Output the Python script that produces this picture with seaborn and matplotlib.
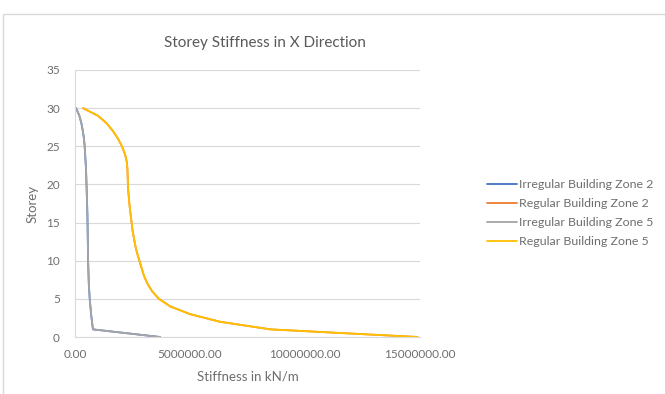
import matplotlib
matplotlib.use("Agg")
import matplotlib.pyplot as plt
import seaborn as sns
import pandas as pd
from matplotlib.patches import Rectangle
from matplotlib.ticker import FuncFormatter

storey = list(range(31))

# Stiffness (kN/m) per storey, storey 0 to 30
irregular_zone2 = [3.70e6, 0.78e6, 0.74e6, 0.70e6, 0.67e6, 0.64e6, 0.62e6, 0.60e6, 0.59e6, 0.58e6,
                   0.57e6, 0.565e6, 0.56e6, 0.555e6, 0.55e6, 0.545e6, 0.54e6, 0.53e6, 0.52e6, 0.51e6,
                   0.50e6, 0.49e6, 0.48e6, 0.46e6, 0.44e6, 0.42e6, 0.39e6, 0.34e6, 0.28e6, 0.19e6, 0.05e6]
regular_zone2 = [14.9e6, 8.5e6, 6.3e6, 5.0e6, 4.15e6, 3.65e6, 3.35e6, 3.15e6, 3.0e6, 2.9e6,
                 2.8e6, 2.7e6, 2.62e6, 2.56e6, 2.5e6, 2.46e6, 2.42e6, 2.38e6, 2.35e6, 2.32e6,
                 2.3e6, 2.29e6, 2.28e6, 2.25e6, 2.17e6, 2.04e6, 1.87e6, 1.65e6, 1.38e6, 1.0e6, 0.35e6]
irregular_zone5 = list(irregular_zone2)
regular_zone5 = list(regular_zone2)

series_names = ["Irregular Building Zone 2", "Regular Building Zone 2",
                "Irregular Building Zone 5", "Regular Building Zone 5"]
series_values = [irregular_zone2, regular_zone2, irregular_zone5, regular_zone5]
colors = ["#4472C4", "#ED7D31", "#A5A5A5", "#FFC000"]

sns.set_theme(style="white")
plt.rcParams["font.family"] = ["Lato", "DejaVu Sans"]
text_color = "#6E6E6E"

fig = plt.figure(figsize=(6.65, 3.94), dpi=100)
fig.patch.set_facecolor("white")
ax = fig.add_axes([75 / 665, 1 - 337 / 394, 345 / 665, 267 / 394])

for name, vals, col in zip(series_names, series_values, colors):
    df = pd.DataFrame({"Stiffness": vals, "Storey": storey})
    sns.lineplot(data=df, x="Stiffness", y="Storey", sort=False, estimator=None,
                 color=col, linewidth=1.3, label=name, ax=ax)

ax.set_xlim(0, 15e6)
ax.set_ylim(0, 35)
ax.set_xticks([0, 5e6, 10e6, 15e6])
ax.set_yticks(range(0, 36, 5))
ax.xaxis.set_major_formatter(FuncFormatter(lambda v, p: f"{v:.2f}"))
ax.grid(axis="y", color="#D9D9D9", linewidth=0.8)
ax.set_axisbelow(True)
for side in ["top", "right"]:
    ax.spines[side].set_visible(False)
for side in ["left", "bottom"]:
    ax.spines[side].set_color("#D9D9D9")
    ax.spines[side].set_linewidth(0.8)
ax.tick_params(axis="x", length=0, labelsize=8.5, colors=text_color, pad=9)
ax.tick_params(axis="y", length=0, labelsize=8.5, colors=text_color, pad=11)
ax.set_xlabel("Stiffness in kN/m", fontsize=9.5, color=text_color, labelpad=7)
ax.set_ylabel("Storey", fontsize=9.5, color=text_color, labelpad=5)

fig.text(265 / 665, 1 - 43 / 394, "Storey Stiffness in X Direction", ha="center", va="center",
         fontsize=11, color="#595959")

ax.get_legend().remove()
handles, labels = ax.get_legend_handles_labels()
fig.legend(handles, labels, loc="center left", bbox_to_anchor=(476 / 665, 1 - 213 / 394),
           frameon=False, fontsize=8.9, labelcolor=text_color, handlelength=2.4,
           handletextpad=0.15, labelspacing=0.65)

fig.patches.append(Rectangle((3 / 665, -0.05), 1.05, 1 - 14 / 394 + 0.05, transform=fig.transFigure,
                             fill=False, edgecolor="#D9D9D9", linewidth=1.0))

fig.savefig("out.png", dpi=100)
